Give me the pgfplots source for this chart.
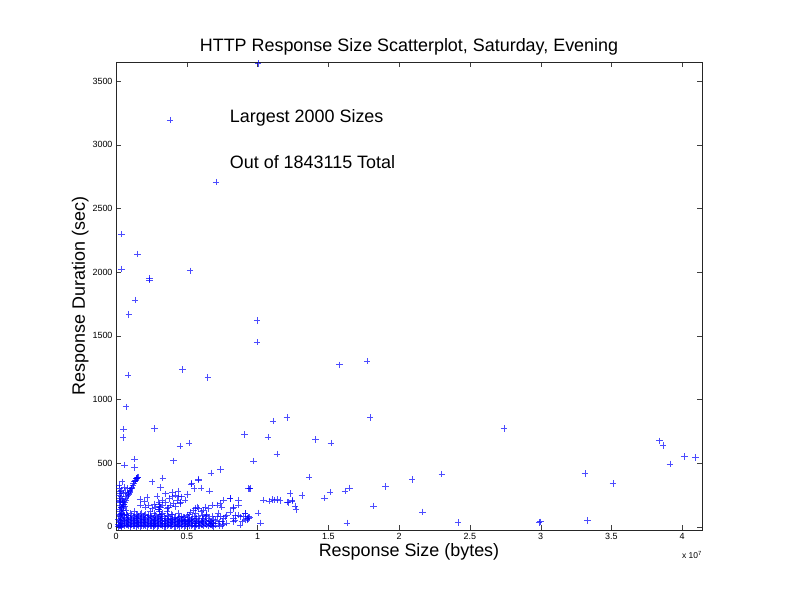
\documentclass[border=0pt]{standalone}
\usepackage{fontspec}
\setmainfont{Liberation Sans}
\usepackage{pgfplots}
\pgfplotsset{compat=1.18}
\begin{document}
\begin{tikzpicture}
\path[use as bounding box] (0,0) rectangle (792bp,612bp);
\begin{axis}[
  at={(116bp,82bp)}, anchor=south west,
  scale only axis, width=586bp, height=468bp,
  xmin=0, xmax=4.14, ymin=-25, ymax=3650,
  xtick={0,0.5,1,1.5,2,2.5,3,3.5,4},
  xticklabels={0,0.5,1,1.5,2,2.5,3,3.5,4},
  ytick={0,500,1000,1500,2000,2500,3000,3500},
  yticklabels={0,500,1000,1500,2000,2500,3000,3500},
  tick align=inside, major tick length=5bp,
  axis line style={black!85}, tick style={black!75},
  tick label style={font=\fontsize{9}{10}\selectfont},
  /pgf/number format/assume math mode=true,
  title={HTTP Response Size Scatterplot, Saturday, Evening},
  title style={font=\fontsize{18}{21}\selectfont, yshift=-3bp},
  xlabel={Response Size (bytes)},
  ylabel={Response Duration (sec)},
  label style={font=\fontsize{18}{21}\selectfont},
  xlabel style={yshift=3bp},
  ylabel style={yshift=-3bp},
  clip=false,
]
\addplot[only marks, mark=+, mark size=3.2bp, line width=0.55pt, color=blue, opacity=0.7] table[row sep=\\] {
x y\\
1.004 3638\\ 0.382 3194\\ 0.707 2707\\ 0.040 2297\\ 0.153 2142\\ 0.040 2024\\
0.236 1951\\ 0.236 1938\\ 0.523 2011\\ 0.134 1781\\ 0.090 1668\\ 0.997 1621\\
0.997 1449\\ 0.085 1192\\ 0.469 1236\\ 0.648 1174\\ 1.579 1273\\ 1.775 1300\\
0.071 943\\ 0.054 767\\ 0.050 702\\ 0.271 773\\ 0.453 634\\ 0.516 657\\
0.405 519\\ 0.132 532\\ 0.132 467\\ 0.059 485\\ 0.907 726\\ 1.073 705\\
1.110 830\\ 1.207 859\\ 1.136 571\\ 0.971 516\\ 1.410 687\\ 1.518 657\\
1.796 859\\ 1.365 390\\ 0.738 451\\ 0.670 424\\ 0.255 354\\ 0.330 385\\
0.313 310\\ 0.530 335\\ 0.582 367\\ 0.582 375\\ 0.535 341\\ 0.552 302\\
0.599 306\\ 0.660 283\\ 0.945 299\\ 1.042 210\\ 1.080 202\\ 1.103 215\\
1.115 210\\ 1.139 215\\ 1.158 207\\ 1.231 262\\ 1.209 194\\ 1.245 202\\
1.266 165\\ 1.271 137\\ 1.313 246\\ 1.473 228\\ 1.513 273\\ 1.617 280\\
1.650 306\\ 1.820 165\\ 1.631 31\\ 1.021 31\\ 1.002 110\\ 1.905 317\\
2.093 372\\ 2.166 118\\ 2.301 414\\ 2.416 34\\ 2.742 773\\ 2.999 40\\
2.990 35\\ 3.312 419\\ 3.331 50\\ 3.510 341\\ 3.840 676\\ 3.863 639\\
3.913 495\\ 4.015 553\\ 4.095 545\\
0.806 223\\ 0.865 210\\ 0.865 170\\ 0.825 144\\ 0.806 118\\ 0.830 66\\
0.842 53\\ 0.877 79\\ 0.912 105\\ 0.924 66\\ 0.889 40\\ 0.943 74\\
0.936 302\\ 0.759 210\\ 0.806 223\\ 0.830 157\\ 0.735 183\\ 0.712 170\\
0.747 157\\ 0.677 170\\ 0.653 144\\ 0.630 157\\ 0.618 131\\ 0.571 157\\
0.582 144\\ 0.559 149\\ 0.547 131\\ 0.523 118\\ 0.500 92\\ 0.476 79\\
0.464 53\\ 0.488 40\\ 0.512 40\\ 0.535 53\\ 0.559 26\\ 0.582 40\\
0.606 66\\ 0.630 79\\ 0.641 92\\ 0.665 40\\ 0.688 26\\ 0.665 13\\
0.712 79\\ 0.735 79\\ 0.771 79\\ 0.830 40\\ 0.877 13\\ 0.912 53\\
0.900 79\\ 0.865 92\\ 0.841 92\\ 0.936 66\\ 0.504 254\\ 0.464 236\\
0.488 210\\ 0.453 183\\ 0.948 301\\ 1.214 191\\ 1.242 210\\ 0.912 105\\
0.924 58\\ 0.936 79\\
0.172 170\\ 0.207 157\\ 0.231 170\\ 0.255 144\\ 0.278 157\\ 0.302 196\\
0.325 210\\ 0.349 196\\ 0.373 223\\ 0.396 236\\ 0.420 249\\ 0.443 236\\
0.431 210\\ 0.455 196\\ 0.313 157\\ 0.361 144\\ 0.384 170\\ 0.408 183\\
0.20 200\\ 0.22 230\\ 0.17 215\\ 0.27 180\\ 0.29 240\\ 0.33 170\\
0.35 260\\ 0.37 150\\ 0.40 270\\ 0.42 160\\ 0.44 280\\
0.305 180\\ 0.305 160\\ 0.305 140\\ 0.305 120\\ 0.305 100\\
0.020 330\\ 0.025 300\\ 0.030 223\\ 0.038 288\\ 0.042 354\\ 0.054 262\\
0.061 314\\ 0.066 275\\ 0.078 302\\ 0.028 260\\ 0.035 240\\ 0.045 220\\
0.050 200\\ 0.025 190\\ 0.032 170\\ 0.040 150\\ 0.048 130\\ 0.022 140\\
0.030 120\\ 0.036 100\\ 0.044 110\\ 0.052 90\\ 0.020 95\\ 0.028 80\\
0.034 70\\ 0.042 60\\ 0.050 50\\ 0.018 60\\ 0.024 45\\ 0.030 35\\
0.038 25\\ 0.046 15\\ 0.016 20\\ 0.022 10\\ 0.028 5\\ 0.034 0\\
0.040 8\\ 0.015 2\\ 0.060 30\\ 0.058 180\\ 0.062 160\\ 0.070 130\\
0.020 250\\ 0.026 210\\ 0.032 280\\ 0.044 190\\
0.149 385\\ 0.137 367\\ 0.125 341\\ 0.113 314\\ 0.101 288\\ 0.090 262\\
0.078 236\\ 0.066 210\\ 0.054 176\\ 0.042 145\\ 0.038 105\\ 0.155 392\\
0.143 378\\ 0.131 356\\ 0.119 328\\ 0.107 300\\ 0.095 275\\ 0.084 250\\
0.072 222\\ 0.060 193\\ 0.048 160\\ 0.151 388\\ 0.146 380\\ 0.135 360\\
0.110 306\\ 0.098 282\\ 0.087 255\\
0.06 5\\ 0.06 22\\ 0.06 48\\ 0.06 75\\ 0.06 95\\
0.08 12\\ 0.08 35\\ 0.08 60\\ 0.08 88\\
0.10 3\\ 0.10 18\\ 0.10 42\\ 0.10 70\\ 0.10 105\\
0.12 8\\ 0.12 28\\ 0.12 55\\ 0.12 80\\
0.14 2\\ 0.14 20\\ 0.14 45\\ 0.14 68\\ 0.14 98\\
0.16 10\\ 0.16 32\\ 0.16 58\\ 0.16 85\\
0.18 5\\ 0.18 25\\ 0.18 50\\ 0.18 72\\ 0.18 110\\
0.20 14\\ 0.20 38\\ 0.20 62\\ 0.20 90\\
0.22 4\\ 0.22 22\\ 0.22 46\\ 0.22 78\\
0.24 9\\ 0.24 30\\ 0.24 56\\ 0.24 84\\ 0.24 120\\
0.26 2\\ 0.26 18\\ 0.26 40\\ 0.26 66\\
0.28 12\\ 0.28 35\\ 0.28 60\\ 0.28 92\\
0.30 6\\ 0.30 26\\ 0.30 50\\ 0.30 75\\ 0.30 140\\
0.32 15\\ 0.32 42\\ 0.32 68\\ 0.32 98\\
0.34 3\\ 0.34 24\\ 0.34 48\\ 0.34 80\\
0.36 10\\ 0.36 34\\ 0.36 58\\ 0.36 88\\ 0.36 125\\
0.38 5\\ 0.38 20\\ 0.38 44\\ 0.38 70\\
0.40 12\\ 0.40 36\\ 0.40 62\\ 0.40 95\\
0.42 4\\ 0.42 28\\ 0.42 52\\ 0.42 78\\
0.44 16\\ 0.44 40\\ 0.44 66\\ 0.44 105\\
0.46 8\\ 0.46 30\\ 0.46 55\\ 0.46 85\\
0.48 2\\ 0.48 22\\ 0.48 46\\ 0.48 72\\
0.50 12\\ 0.50 36\\ 0.50 60\\
0.52 6\\ 0.52 28\\ 0.52 50\\ 0.52 95\\
0.54 15\\ 0.54 40\\ 0.54 70\\
0.56 4\\ 0.56 24\\ 0.56 58\\ 0.56 110\\
0.58 10\\ 0.58 32\\ 0.58 80\\
0.60 18\\ 0.60 45\\ 0.60 120\\
0.62 6\\ 0.62 28\\ 0.62 60\\
0.64 12\\ 0.64 40\\ 0.64 100\\
0.66 20\\ 0.66 50\\
0.68 8\\ 0.68 32\\ 0.68 85\\
0.70 15\\ 0.70 55\\
0.72 25\\ 0.72 110\\
0.75 10\\ 0.75 45\\
0.78 30\\ 0.78 90\\
0.03 15\\ 0.03 55\\ 0.03 90\\ 0.035 150\\ 0.03 200\\
0.07 15\\ 0.07 40\\ 0.07 65\\ 0.07 100\\
0.09 8\\ 0.09 28\\ 0.09 52\\ 0.09 78\\
0.11 12\\ 0.11 35\\ 0.11 62\\ 0.11 90\\
0.13 5\\ 0.13 26\\ 0.13 50\\ 0.13 75\\ 0.13 120\\
0.15 14\\ 0.15 38\\ 0.15 64\\ 0.15 92\\
0.17 3\\ 0.17 20\\ 0.17 44\\ 0.17 66\\ 0.17 100\\
0.19 10\\ 0.19 32\\ 0.19 58\\ 0.19 82\\
0.21 6\\ 0.21 28\\ 0.21 54\\ 0.21 100\\
0.23 14\\ 0.23 36\\ 0.23 64\\ 0.23 90\\
0.25 5\\ 0.25 24\\ 0.25 48\\ 0.25 74\\
0.27 10\\ 0.27 30\\ 0.27 52\\ 0.27 82\\ 0.27 110\\
0.29 4\\ 0.29 20\\ 0.29 44\\ 0.29 68\\
0.31 12\\ 0.31 34\\ 0.31 58\\ 0.31 86\\
0.33 8\\ 0.33 30\\ 0.33 55\\ 0.33 110\\
0.35 2\\ 0.35 18\\ 0.35 42\\ 0.35 66\\
0.37 14\\ 0.37 28\\ 0.37 52\\ 0.37 80\\
0.39 8\\ 0.39 32\\ 0.39 56\\ 0.39 100\\
0.41 2\\ 0.41 20\\ 0.41 45\\ 0.41 70\\
0.43 10\\ 0.43 34\\ 0.43 58\\
0.45 4\\ 0.45 22\\ 0.45 46\\ 0.45 72\\
0.47 14\\ 0.47 38\\ 0.47 62\\
0.49 6\\ 0.49 30\\ 0.49 54\\
0.51 20\\ 0.51 44\\ 0.51 76\\
0.53 10\\ 0.53 34\\ 0.53 60\\
0.55 4\\ 0.55 28\\ 0.55 85\\
0.57 14\\ 0.57 46\\ 0.57 70\\
0.59 6\\ 0.59 24\\ 0.59 55\\
0.61 12\\ 0.61 36\\ 0.61 90\\
0.63 20\\ 0.63 50\\
0.65 6\\ 0.65 30\\ 0.65 70\\
0.67 14\\ 0.67 44\\
0.69 4\\ 0.69 28\\ 0.69 60\\
0.73 8\\ 0.73 40\\
0.76 20\\ 0.76 65\\
};
\node[anchor=west, font=\fontsize{18}{21}\selectfont] at (axis cs:0.78,3210) {Largest 2000 Sizes};
\node[anchor=west, font=\fontsize{18}{21}\selectfont] at (axis cs:0.78,2865) {Out of 1843115 Total};
\node[anchor=north east, font=\fontsize{8.5}{9}\selectfont, inner sep=0pt] at ([yshift=-21bp]rel axis cs:1,0) {x 10\textsuperscript{7}};
\end{axis}
\end{tikzpicture}
\end{document}
